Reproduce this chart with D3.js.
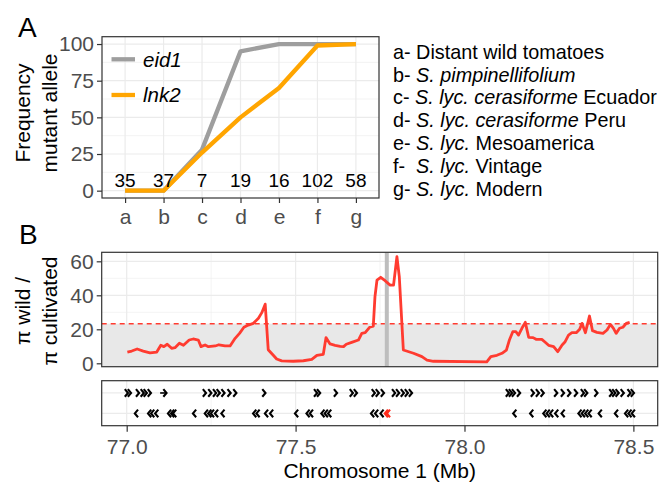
<!DOCTYPE html>
<html><head><meta charset="utf-8">
<script src="https://cdn.jsdelivr.net/npm/d3@7"></script>
<style>body{margin:0;background:#fff}svg{display:block;font-family:"Liberation Sans",Arial,Helvetica,sans-serif}</style>
</head><body><svg id="c" width="666" height="485"></svg>
<script>
// ---------- Panel A data ----------
const categories = ['a','b','c','d','e','f','g'];
const eid1Freq = [0, 0, 28, 95, 100, 100, 100];
const lnk2Freq = [0, 0, 26, 50, 70, 99, 100];
const sampleSizes = [35, 37, 7, 19, 16, 102, 58];
const yTicksA = [0, 25, 50, 75, 100];
const groupPrefix = ['a- ', 'b- ', 'c- ', 'd- ', 'e- ', 'f-\u00a0 ', 'g- '];
const groupItalic = ['', 'S. pimpinellifolium', 'S. lyc. cerasiforme', 'S. lyc. cerasiforme', 'S. lyc.', 'S. lyc.', 'S. lyc.'];
const groupPlain = ['Distant wild tomatoes', '', ' Ecuador', ' Peru', ' Mesoamerica', ' Vintage', ' Modern'];

// ---------- Panel B data ----------
const posMb = [77.002,77.015,77.031,77.049,77.069,77.089,77.101,77.110,77.120,77.133,77.143,77.156,77.168,77.185,77.197,77.212,77.220,77.232,77.242,77.262,77.273,77.291,77.306,77.321,77.334,77.347,77.360,77.375,77.390,77.400,77.410,77.419,77.434,77.444,77.459,77.493,77.523,77.548,77.563,77.582,77.590,77.602,77.617,77.632,77.642,77.650,77.666,77.686,77.696,77.706,77.719,77.730,77.735,77.741,77.752,77.765,77.780,77.790,77.800,77.807,77.819,77.849,77.874,77.889,77.908,78.066,78.078,78.096,78.111,78.124,78.133,78.143,78.152,78.160,78.170,78.180,78.190,78.203,78.212,78.229,78.239,78.249,78.264,78.276,78.289,78.298,78.308,78.318,78.331,78.341,78.348,78.358,78.370,78.379,78.392,78.410,78.422,78.432,78.441,78.449,78.459,78.469,78.479,78.489];
const piRatio = [6.6,7.2,8.4,7.2,6.1,6.6,10.6,9.8,11.2,8.8,9.2,11.8,10.6,13.7,14.3,13.7,9.8,10.8,9.8,10.2,10.9,10.2,10.2,14.7,17.6,21.2,22.5,23.5,26.5,29.8,34.8,8.0,4.7,2.5,1.4,1.2,1.5,2.3,4.7,5.3,15.1,11.4,10.6,10.0,9.8,11.2,12.3,13.7,17.6,18.0,21.2,21.9,39.2,49.0,50.6,48.6,46.0,46.0,62.7,51.0,7.8,5.9,3.9,1.9,1.2,0.8,3.9,4.7,5.9,7.8,13.7,18.6,18.6,16.6,20.6,24.1,15.3,15.1,14.1,14.1,12.4,10.6,9.8,6.8,10.8,12.7,16.6,18.0,18.0,20.0,23.5,18.0,27.8,19.2,18.2,17.6,19.6,22.9,20.6,17.6,20.6,21.2,23.5,24.1];
const threshold = 23.3;
const candidateMb = 77.770;
const yTicksB = [0, 20, 40, 60];
const xTicksB = [77.0, 77.5, 78.0, 78.5];

// genes: forward (+) and reverse (-) positions in Mb
const forwardGenes = [76.998,77.007,77.031,77.045,77.054,77.066,77.229,77.245,77.259,77.270,77.284,77.302,77.319,77.405,77.558,77.567,77.617,77.664,77.676,77.729,77.741,77.756,77.789,77.801,77.815,77.827,77.839,78.126,78.135,78.144,78.159,78.200,78.215,78.229,78.269,78.289,78.308,78.328,78.348,78.358,78.388,78.432,78.441,78.451,78.466,78.486,78.496];
const longForwardGene = [77.099, 77.118];
const reverseGenes = [77.030,77.069,77.078,77.090,77.128,77.137,77.143,77.202,77.237,77.247,77.255,77.267,77.286,77.380,77.390,77.415,77.430,77.504,77.538,77.548,77.582,77.592,77.602,77.729,77.741,77.757,78.150,78.200,78.239,78.249,78.259,78.274,78.293,78.343,78.353,78.363,78.373,78.403,78.451,78.481,78.491,78.501];
const candidateGenes = [77.770, 77.776];

const svg = d3.select('#c');
const gridCol = '#ebebeb', axisTxt = '#4d4d4d', borderCol = '#333333';
const FF = '"Liberation Sans",Arial,Helvetica,sans-serif';
const tickFont = 21;

function styleAxis(a){
  a.select('.domain').remove();
  a.selectAll('.tick line').attr('stroke',borderCol).attr('stroke-width',1.2);
  a.selectAll('.tick text').attr('fill',axisTxt).attr('font-size',tickFont).attr('font-family',FF);
}

// ================= Panel A =================
const A = {l:102, r:379, t:36.7, b:198};
const xA = d3.scalePoint().domain(categories).range([A.l, A.r]).padding(0.6);
const yA = d3.scaleLinear().domain([-5, 105]).range([A.b, A.t]);
const gA = svg.append('g');
const minorA = d3.range(12.5, 100, 25);
gA.selectAll('.mg').data(minorA).enter().append('line')
  .attr('x1',A.l).attr('x2',A.r).attr('y1',d=>yA(d)).attr('y2',d=>yA(d))
  .attr('stroke',gridCol).attr('stroke-width',0.6);
gA.selectAll('.gy').data(yTicksA).enter().append('line')
  .attr('x1',A.l).attr('x2',A.r).attr('y1',d=>yA(d)).attr('y2',d=>yA(d))
  .attr('stroke',gridCol).attr('stroke-width',1.2);
gA.selectAll('.gx').data(categories).enter().append('line')
  .attr('y1',A.t).attr('y2',A.b).attr('x1',d=>xA(d)).attr('x2',d=>xA(d))
  .attr('stroke',gridCol).attr('stroke-width',1.2);
const lineA = d3.line().x((d,i)=>xA(categories[i])).y(d=>yA(d));
gA.append('path').datum(eid1Freq).attr('d',lineA).attr('fill','none')
  .attr('stroke','#9e9e9e').attr('stroke-width',4.3).attr('stroke-linejoin','round');
gA.append('path').datum(lnk2Freq).attr('d',lineA).attr('fill','none')
  .attr('stroke','#ffa500').attr('stroke-width',4.3).attr('stroke-linejoin','round');
gA.selectAll('.ss').data(sampleSizes).enter().append('text')
  .attr('x',(d,i)=>xA(categories[i])).attr('y',187)
  .attr('text-anchor','middle').attr('font-size',19).attr('fill','#000').text(d=>d);
const legA = [{name:'eid1', col:'#9e9e9e', y:59.3},{name:'lnk2', col:'#ffa500', y:95}];
legA.forEach(l=>{
  gA.append('line').attr('x1',111.5).attr('x2',135).attr('y1',l.y).attr('y2',l.y)
    .attr('stroke',l.col).attr('stroke-width',4.3);
  gA.append('text').attr('x',143).attr('y',l.y+7.3)
    .attr('font-size',20.5).attr('font-style','italic').text(l.name);
});
gA.append('rect').attr('x',A.l).attr('y',A.t).attr('width',A.r-A.l).attr('height',A.b-A.t)
  .attr('fill','none').attr('stroke',borderCol).attr('stroke-width',1.2);
const axAy = gA.append('g').attr('transform',`translate(${A.l},0)`)
  .call(d3.axisLeft(yA).tickValues(yTicksA).tickSize(5).tickPadding(3));
const axAx = gA.append('g').attr('transform',`translate(0,${A.b})`)
  .call(d3.axisBottom(xA).tickSize(5).tickPadding(6));
styleAxis(axAy); styleAxis(axAx);
const tA = gA.append('text').attr('transform','translate(0,113) rotate(-90)')
  .attr('text-anchor','middle').attr('font-size',21);
tA.append('tspan').attr('x',0).attr('y',30).text('Frequency');
tA.append('tspan').attr('x',0).attr('y',57).text('mutant allele');
svg.append('text').attr('x',18).attr('y',37).attr('font-size',28).text('A');

// group legend
const gl = svg.append('g');
groupPrefix.forEach((p,i)=>{
  const t = gl.append('text').attr('x',393).attr('y',51.5+i*22.9).attr('dy','0.36em').attr('font-size',19.8);
  t.append('tspan').text(p);
  if (groupItalic[i]) t.append('tspan').attr('font-style','italic').text(groupItalic[i]);
  if (groupPlain[i]) t.append('tspan').text(groupPlain[i]);
});

// ================= Panel B =================
const B = {l:101.7, r:657.7, t:252.3, b:366.7};
const xB = d3.scaleLinear().domain([76.926, 78.572]).range([B.l, B.r]);
const yB = d3.scaleLinear().domain([-2, 65.3]).range([B.b, B.t]);
const gB = svg.append('g');
const minorX = [77.25, 77.75, 78.25];
gB.selectAll('.mgy').data([10,30,50]).enter().append('line')
  .attr('x1',B.l).attr('x2',B.r).attr('y1',d=>yB(d)).attr('y2',d=>yB(d))
  .attr('stroke',gridCol).attr('stroke-width',0.6);
gB.selectAll('.mgx').data(minorX).enter().append('line')
  .attr('y1',B.t).attr('y2',B.b).attr('x1',d=>xB(d)).attr('x2',d=>xB(d))
  .attr('stroke',gridCol).attr('stroke-width',0.6);
gB.selectAll('.gy').data(yTicksB).enter().append('line')
  .attr('x1',B.l).attr('x2',B.r).attr('y1',d=>yB(d)).attr('y2',d=>yB(d))
  .attr('stroke',gridCol).attr('stroke-width',1.2);
gB.selectAll('.gx').data(xTicksB).enter().append('line')
  .attr('y1',B.t).attr('y2',B.b).attr('x1',d=>xB(d)).attr('x2',d=>xB(d))
  .attr('stroke',gridCol).attr('stroke-width',1.2);
gB.append('rect').attr('x',B.l).attr('width',B.r-B.l)
  .attr('y',yB(threshold)).attr('height',B.b-yB(threshold)).attr('fill','#e8e8e8');
gB.append('line').attr('x1',B.l).attr('x2',B.r).attr('y1',yB(threshold)).attr('y2',yB(threshold))
  .attr('stroke','#ff3b30').attr('stroke-width',1.5).attr('stroke-dasharray','5,4');
gB.append('line').attr('x1',xB(candidateMb)).attr('x2',xB(candidateMb)).attr('y1',B.t).attr('y2',B.b)
  .attr('stroke','#bdbdbd').attr('stroke-width',4);
const lineB = d3.line().x((d,i)=>xB(posMb[i])).y(d=>yB(d));
gB.append('path').datum(piRatio).attr('d',lineB).attr('fill','none')
  .attr('stroke','#ff3b30').attr('stroke-width',2.8).attr('stroke-linejoin','round');
gB.append('rect').attr('x',B.l).attr('y',B.t).attr('width',B.r-B.l).attr('height',B.b-B.t)
  .attr('fill','none').attr('stroke',borderCol).attr('stroke-width',1.2);
const axBy = gB.append('g').attr('transform',`translate(${B.l},0)`)
  .call(d3.axisLeft(yB).tickValues(yTicksB).tickSize(5).tickPadding(3));
styleAxis(axBy);
const tB = gB.append('text').attr('transform','translate(0,311) rotate(-90)')
  .attr('text-anchor','middle').attr('font-size',21);
tB.append('tspan').attr('x',0).attr('y',30).text('π wild /');
tB.append('tspan').attr('x',0).attr('y',57).text('π cultivated');
svg.append('text').attr('x',19).attr('y',244).attr('font-size',28).text('B');

// ================= Gene panel =================
const G = {l:101.7, r:657.7, t:380.7, b:425.7};
const yG = d3.scalePoint().domain(['+','-']).range([G.t, G.b]).padding(0.6);
const gG = svg.append('g');
gG.selectAll('.gmx').data(minorX).enter().append('line')
  .attr('y1',G.t).attr('y2',G.b).attr('x1',d=>xB(d)).attr('x2',d=>xB(d))
  .attr('stroke',gridCol).attr('stroke-width',0.6);
gG.selectAll('.ggx').data(xTicksB).enter().append('line')
  .attr('y1',G.t).attr('y2',G.b).attr('x1',d=>xB(d)).attr('x2',d=>xB(d))
  .attr('stroke',gridCol).attr('stroke-width',1.2);
gG.selectAll('.ggy').data(['+','-']).enter().append('line')
  .attr('x1',G.l).attr('x2',G.r).attr('y1',d=>yG(d)).attr('y2',d=>yG(d))
  .attr('stroke',gridCol).attr('stroke-width',1.2);
const chevF = (x,y)=>`M${x-3.2},${y-3.8}L${x},${y}L${x-3.2},${y+3.8}`;
const chevR = (x,y)=>`M${x+3.2},${y-3.8}L${x},${y}L${x+3.2},${y+3.8}`;
gG.selectAll('.fw').data(forwardGenes).enter().append('path')
  .attr('d',d=>chevF(xB(d)+2, yG('+'))).attr('fill','none').attr('stroke','#000').attr('stroke-width',2.1);
gG.append('line').attr('x1',xB(longForwardGene[0])).attr('x2',xB(longForwardGene[1]))
  .attr('y1',yG('+')).attr('y2',yG('+')).attr('stroke','#000').attr('stroke-width',1.6);
gG.append('path').attr('d',chevF(xB(longForwardGene[1]), yG('+'))).attr('fill','none').attr('stroke','#000').attr('stroke-width',2.1);
gG.selectAll('.rv').data(reverseGenes).enter().append('path')
  .attr('d',d=>chevR(xB(d)-2, yG('-'))).attr('fill','none').attr('stroke','#000').attr('stroke-width',2.1);
gG.selectAll('.cd').data(candidateGenes).enter().append('path')
  .attr('d',d=>chevR(xB(d)-2, yG('-'))).attr('fill','none').attr('stroke','#ff2a1a').attr('stroke-width',2.2);
gG.append('rect').attr('x',G.l).attr('y',G.t).attr('width',G.r-G.l).attr('height',G.b-G.t)
  .attr('fill','none').attr('stroke',borderCol).attr('stroke-width',1.2);
const axGx = gG.append('g').attr('transform',`translate(0,${G.b})`)
  .call(d3.axisBottom(xB).tickValues(xTicksB).tickFormat(d3.format('.1f')).tickSize(6).tickPadding(7));
styleAxis(axGx);
svg.append('text').attr('x',(B.l+B.r)/2).attr('y',478).attr('text-anchor','middle')
  .attr('font-size',21).text('Chromosome 1 (Mb)');
</script></body></html>
